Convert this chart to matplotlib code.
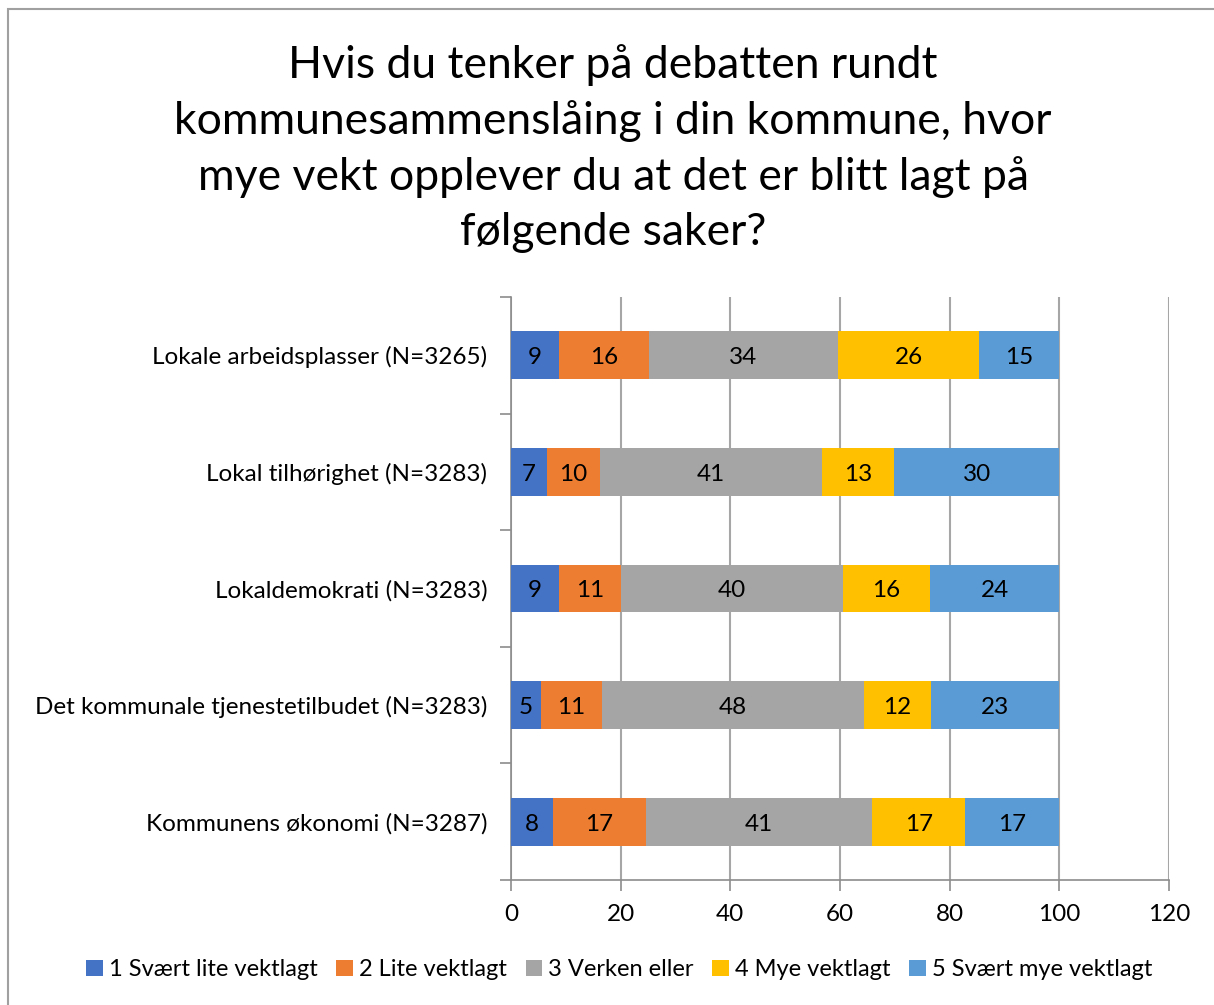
import numpy as np
import matplotlib
matplotlib.use('Agg')
from matplotlib import pyplot as plt
from matplotlib.patches import Rectangle

plt.rcParams['font.family'] = ['Lato', 'DejaVu Sans']

categories = ['Lokale arbeidsplasser (N=3265)', 'Lokal tilhørighet (N=3283)',
              'Lokaldemokrati (N=3283)', 'Det kommunale tjenestetilbudet (N=3283)',
              'Kommunens økonomi (N=3287)']
series = ['1 Svært lite vektlagt', '2 Lite vektlagt', '3 Verken eller',
          '4 Mye vektlagt', '5 Svært mye vektlagt']
v1 = [8.8, 6.6, 8.8, 5.4, 7.7]
v2 = [16.4, 9.6, 11.3, 11.2, 16.9]
v3 = [34.4, 40.6, 40.4, 47.8, 41.3]
v4 = [25.8, 13.1, 15.9, 12.2, 16.9]
v5 = [14.6, 30.1, 23.6, 23.4, 17.2]
colors = ['#4472C4', '#ED7D31', '#A5A5A5', '#FFC000', '#5B9BD5']
title = ('Hvis du tenker på debatten rundt\nkommunesammenslåing i din kommune, hvor\n'
         'mye vekt opplever du at det er blitt lagt på\nfølgende saker?')

fig = plt.figure(figsize=(12.14, 10.05), dpi=100)
ax = fig.add_axes([0.4209, 0.1244, 0.5420, 0.580])

y = np.arange(len(categories))
left = np.zeros(len(categories))
for vals, name, c in zip([v1, v2, v3, v4, v5], series, colors):
    vals = np.array(vals)
    ax.barh(y, vals, left=left, height=0.41, color=c, label=name, zorder=3)
    for yi, l, v in zip(y, left, vals):
        ax.text(l + v / 2, yi + 0.02, '%d' % round(v), ha='center', va='center',
                fontsize=17.5, color='black', zorder=4)
    left += vals

ax.set_xlim(0, 120)
ax.set_ylim(len(categories) - 0.5, -0.5)
ax.set_xticks(range(0, 121, 20))
ax.set_yticks(y)
ax.set_yticklabels(categories, fontsize=17.5)
ax.set_yticks(np.arange(-0.5, len(categories), 1), minor=True)
ax.tick_params(axis='y', which='major', length=0, pad=17)
ax.tick_params(axis='y', which='minor', length=8, color='#8c8c8c', width=1.2)
ax.tick_params(axis='x', length=8, color='#8c8c8c', width=1.2, labelsize=17.5, pad=9)
ax.xaxis.grid(True, color='#a6a6a6', linewidth=1.5, zorder=0)
for s in ['top', 'right']:
    ax.spines[s].set_visible(False)
for s in ['left', 'bottom']:
    ax.spines[s].set_color('#8c8c8c')
    ax.spines[s].set_linewidth(1.2)

fig.text(0.505, 0.852, title, ha='center', va='center', fontsize=32,
         linespacing=1.42)

fig.legend(loc='center', bbox_to_anchor=(0.51, 0.035), ncol=5, frameon=False,
           fontsize=17, handlelength=0.7, handleheight=0.7, handletextpad=0.25,
           columnspacing=0.8)

fig.patches.append(Rectangle((0.0066, -0.05), 1.2, 1.041, transform=fig.transFigure,
                             fill=False, edgecolor='#a0a0a0', linewidth=1.5))

fig.savefig('out.png', dpi=100)
